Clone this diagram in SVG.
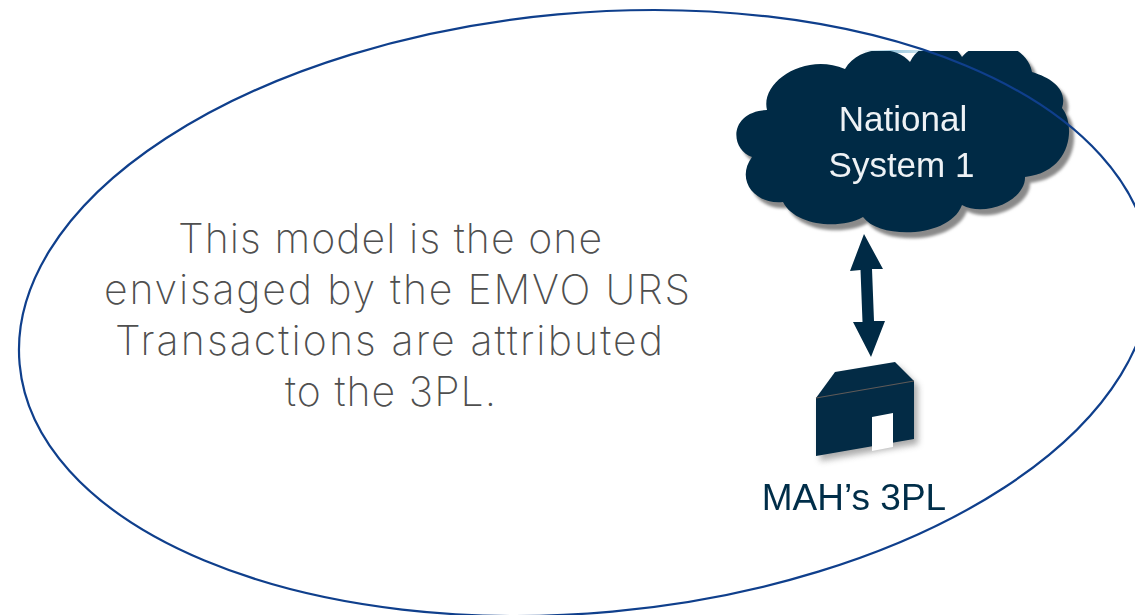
<svg xmlns="http://www.w3.org/2000/svg" width="1135" height="615" viewBox="0 0 1135 615">
<style>
.body{font-family:"Inter","Open Sans",sans-serif;font-weight:200;font-size:41px;fill:#4f4f4f;text-anchor:middle;font-variant-ligatures:none}
.cloudt{font-family:"Liberation Sans",Arial,sans-serif;font-size:35px;fill:#eef2f5;text-anchor:middle}
.lab{font-family:"Liberation Sans",Arial,sans-serif;font-size:37px;fill:#052d48;text-anchor:middle}
.navy{fill:#032b45}
</style>
<defs>
<filter id="b1" x="-10%" y="-10%" width="120%" height="120%"><feGaussianBlur stdDeviation="1.500"/></filter>
<filter id="b2" x="-20%" y="-20%" width="140%" height="140%"><feGaussianBlur stdDeviation="3"/></filter>
<filter id="soft" x="-5%" y="-5%" width="110%" height="110%"><feGaussianBlur stdDeviation="0.500"/></filter>
<linearGradient id="sliver" x1="0" x2="1" y1="0" y2="0"><stop offset="0" stop-color="#fff"/><stop offset="0.5" stop-color="#9cc8de"/><stop offset="1" stop-color="#cfe6f0"/></linearGradient>
<clipPath id="cloudclip"><rect x="700" y="51" width="435" height="300"/></clipPath>
<path id="cloudshape" d="M845 69C858 46 895 44 910 62C920 40 952 38 962 57C978 36 1026 40 1032 72C1052 78 1068 90 1062 108C1076 125 1072 172 1025 177C1026 200 985 218 962 205C950 238 880 240 863 217C840 230 795 226 783 202C755 205 735 180 752 157C730 150 728 112 767 110C760 82 805 52 845 69Z"/>
</defs>
<g id="connectors">
<polygon class="navy" filter="url(#soft)" points="864,234 883,269 872,269 874,321 885,321 871,357 853,322 862.500,322 860.500,270 850,271"/>
</g>
<g id="cloud-node">
<rect x="860" y="50" width="65" height="3" fill="url(#sliver)"/>
<g clip-path="url(#cloudclip)">
<use href="#cloudshape" transform="translate(5 6)" fill="#8a8a8a" filter="url(#b1)"/>
<use href="#cloudshape" class="navy" filter="url(#soft)"/>
</g>
<text class="cloudt" x="903" y="131" filter="url(#soft)">National</text>
<text class="cloudt" x="901.500" y="177" filter="url(#soft)">System 1</text>
</g>
<g id="warehouse-node">
<polygon points="816,398 835,372 895,362 914,381 914,439 816,456" transform="translate(4 5)" fill="#888" filter="url(#b2)" opacity="0.7"/>
<polygon class="navy" points="816,398 835,372 895,362 914,381 914,439 816,456"/>
<line x1="816" y1="398" x2="914" y2="381" stroke="#5f5a58" stroke-width="1.200"/>
<polygon fill="#fff" points="872,417 893,413 893,447 872,451"/>
<text class="lab" x="854" y="510" filter="url(#soft)">MAH’s 3PL</text>
</g>
<g id="model-text">
<text class="body" x="390" y="253" textLength="424" lengthAdjust="spacing">This model is the one</text>
<text class="body" x="397" y="304" textLength="586" lengthAdjust="spacing">envisaged by the EMVO URS</text>
<text class="body" x="389" y="355" textLength="548" lengthAdjust="spacing">Transactions are attributed</text>
<text class="body" x="390.500" y="406" textLength="211" lengthAdjust="spacing">to the 3PL.</text>
</g>
<g id="ellipse-node">
<ellipse cx="585" cy="313" rx="567.700" ry="299.800" transform="rotate(-5.2 585 313)" fill="none" stroke="#0f3f8c" stroke-width="2.200"/>
</g>
</svg>
